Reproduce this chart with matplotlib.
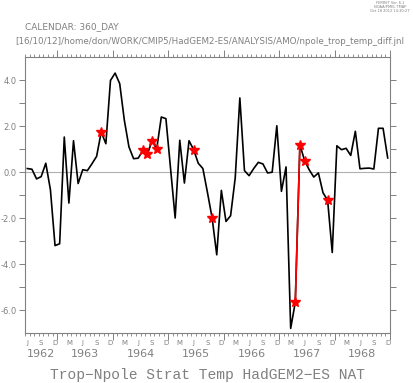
import matplotlib
matplotlib.use("Agg")
import matplotlib.pyplot as plt
import matplotlib.transforms as mtransforms
import numpy as np

# monthly values, Jun 1962 .. Dec 1968 (360_DAY calendar)
vals = [0.15, 0.12, -0.3, -0.2, 0.38, -0.77, -3.2, -3.12, 1.52, -1.35,
        1.36, -0.5, 0.1, 0.06, 0.36, 0.68, 1.74, 1.23, 3.98, 4.3,
        3.84, 2.25, 1.09, 0.58, 0.6, 0.94, 0.78, 1.36, 1.0, 2.39,
        2.32, 0.16, -2.0, 1.38, -0.48, 1.36, 0.97, 0.38, 0.15, -0.9,
        -2.0, -3.6, -0.8, -2.15, -1.9, -0.26, 3.22, 0.06, -0.16, 0.15,
        0.42, 0.35, -0.04, -0.01, 2.01, -0.84, 0.22, -6.8, -5.67, 1.19,
        0.5, 0.1, -0.22, -0.04, -0.9, -1.23, -3.5, 1.14, 0.97, 1.03,
        0.72, 1.77, 0.14, 0.16, 0.17, 0.13, 1.9, 1.9, 0.61]
star_idx = [16, 25, 26, 27, 28, 36, 40, 58, 59, 60, 65]
red_seg = [58, 59]
start_year = 1962
start_month = 5  # June (0 = Jan)
years = [1962, 1963, 1964, 1965, 1966, 1967, 1968]
month_letters = {5: 'J', 8: 'S', 11: 'D', 2: 'M'}

W, H = 414, 383
fig = plt.figure(figsize=(W / 100, H / 100), dpi=100)
ax = fig.add_axes([25 / W, 1 - 333 / H, 365 / W, 276 / H])

gray = '#808080'
n = len(vals)
x = np.arange(n) + 0.5
v = np.array(vals)

ax.axhline(0, color='#b0b0b0', lw=0.8, zorder=1)
ax.plot(x, v, color='black', lw=1.2, zorder=2)
ax.plot(x[red_seg], v[red_seg], color='red', lw=1.2, zorder=3)
ax.plot(x[star_idx], v[star_idx], ls='none', marker='*', color='red',
        ms=7, mec='red', zorder=4)

ax.set_xlim(0, n)
ax.set_ylim(-7, 5)

for s in ax.spines.values():
    s.set_color(gray)
    s.set_linewidth(0.8)

# y ticks both sides, outward
ax.set_yticks(np.arange(-6, 5, 2))
ax.set_yticks(np.arange(-5, 5, 2), minor=True)
ax.set_yticklabels(['%.1f' % t for t in np.arange(-6, 5, 2)])
ax.tick_params(axis='y', which='both', direction='out', length=4,
               width=0.7, color=gray, labelcolor=gray, labelsize=6,
               left=True, right=True, pad=2)

# x ticks: month boundaries small, year boundaries long
year_pos = [(12 - start_month) + 12 * k for k in range(7)]
ax.set_xticks(year_pos)
ax.set_xticks(np.arange(0, n + 1), minor=True)
ax.set_xticklabels([])
ax.tick_params(axis='x', which='major', direction='out', length=5,
               width=0.7, color=gray, top=True, bottom=True)
ax.tick_params(axis='x', which='minor', direction='out', length=2.5,
               width=0.6, color=gray, top=True, bottom=True)

trans = mtransforms.blended_transform_factory(ax.transData, fig.transFigure)
for i in range(n):
    m = (start_month + i) % 12
    if m in month_letters:
        fig.text(i + 0.5, 1 - 343 / H, month_letters[m], transform=trans,
                 ha='center', va='center', fontsize=5, color=gray)
for y in years:
    a = max(0, (y - start_year) * 12 - start_month)
    b = min(n, (y - start_year + 1) * 12 - start_month)
    fig.text((a + b) / 2, 1 - 354 / H, str(y), transform=trans,
             ha='center', va='center', fontsize=8, color=gray)

fig.text(25 / W, 1 - 27 / H, 'CALENDAR: 360_DAY', fontsize=6.5,
         color=gray, va='center')
fig.text(15 / W, 1 - 42 / H,
         '[16/10/12]/home/don/WORK/CMIP5/HadGEM2-ES/ANALYSIS/AMO/npole_trop_temp_diff.jnl',
         fontsize=6.3, color=gray, va='center')
fig.text(410 / W, 1 - 7 / H,
         'FERRET Ver. 6.1\nNOAA/PMEL TMAP\nOct 18 2012 14:30:27',
         fontsize=2.6, color=gray, ha='right', va='center', linespacing=1.1,
         multialignment='center')
fig.text(208 / W, 1 - 375 / H, 'Trop\u2212Npole Strat Temp HadGEM2\u2212ES NAT',
         fontsize=10.5, family='Liberation Mono', color=gray,
         ha='center', va='center')

fig.savefig('out.png', dpi=100)
